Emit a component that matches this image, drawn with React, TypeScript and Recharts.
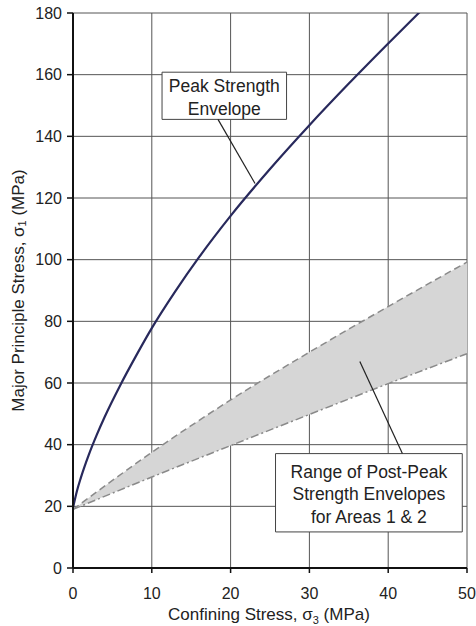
import React from "react";
import {
	ComposedChart,
	Line,
	Area,
	XAxis,
	YAxis,
	CartesianGrid,
	ReferenceLine,
	ReferenceArea,
} from "recharts";

const font = "'Liberation Sans', Arial, sans-serif";

// peak strength envelope, sigma3 vs sigma1 (MPa)
const peakS3 = [0, 0.5, 1, 2, 3, 4, 6, 8, 10, 13, 16, 20, 25, 30, 35, 40, 44];
const peakS1 = [
	19.5, 25, 29.3, 36.7, 43.1, 48.9, 59.3, 68.8, 77.8, 89.8, 100.8, 114.2, 129.4,
	143.6, 157.1, 170.1, 180.3,
];

// post-peak envelope range
const postS3 = [0, 10, 20, 30, 40, 50];
const postUpper = [19, 37.5, 54.5, 70, 84.8, 99.2];
const postLower = [19, 29.5, 39.7, 49.8, 59.8, 69.5];

const xTicks = [0, 10, 20, 30, 40, 50];
const yTicks = [0, 20, 40, 60, 80, 100, 120, 140, 160, 180];

const peakData = peakS3.map((s3, i) => ({ s3, s1: peakS1[i] }));
const postData = postS3.map((s3, i) => ({
	s3,
	upper: postUpper[i],
	lower: postLower[i],
	band: [postLower[i], postUpper[i]],
}));

function BoxText(props: any) {
	const { viewBox, lines } = props;
	if (!viewBox) return null;
	const cx = viewBox.x + viewBox.width / 2;
	const cy = viewBox.y + viewBox.height / 2 + 1.5;
	const lh = 22.5;
	return (
		<g>
			{lines.map((t: string, i: number) => (
				<text
					key={i}
					x={cx}
					y={cy + (i - (lines.length - 1) / 2) * lh}
					textAnchor='middle'
					dominantBaseline='central'
					fontFamily={font}
					fontSize={17.5}
					fill='#222'>
					{t}
				</text>
			))}
		</g>
	);
}

function XTitle(props: any) {
	const { viewBox } = props;
	if (!viewBox) return null;
	return (
		<text
			x={viewBox.x + viewBox.width / 2 - 1}
			y={viewBox.y + 52}
			textAnchor='middle'
			fontFamily={font}
			fontSize={17}
			fill='#222'>
			Confining Stress, σ
			<tspan fontSize={11} dy={4}>
				3
			</tspan>
			<tspan dy={-4}> (MPa)</tspan>
		</text>
	);
}

function YTitle(props: any) {
	const { viewBox } = props;
	if (!viewBox) return null;
	const cx = 18;
	const cy = viewBox.y + viewBox.height / 2;
	return (
		<text
			x={cx}
			y={cy}
			transform={`rotate(-90 ${cx} ${cy})`}
			textAnchor='middle'
			dominantBaseline='central'
			fontFamily={font}
			fontSize={17}
			fill='#222'>
			Major Principle Stress, σ
			<tspan fontSize={11} dy={4}>
				1
			</tspan>
			<tspan dy={-4}> (MPa)</tspan>
		</text>
	);
}

export default function App() {
	return (
		<div style={{ position: "absolute", left: 0, top: 0, background: "#fff" }}>
			<ComposedChart
				width={476}
				height={626}
				margin={{ top: 13, right: 9, bottom: 0, left: 0 }}>
				<CartesianGrid stroke='#555' strokeWidth={1} />
				<XAxis
					type='number'
					dataKey='s3'
					domain={[0, 50]}
					ticks={xTicks}
					height={58}
					tickSize={5}
					tickMargin={15}
					axisLine={{ stroke: "#111", strokeWidth: 2 }}
					tickLine={{ stroke: "#111", strokeWidth: 1.5 }}
					tick={{ fill: "#222", fontSize: 16, fontFamily: font }}
					label={<XTitle />}
				/>
				<YAxis
					type='number'
					domain={[0, 180]}
					ticks={yTicks}
					width={73}
					tickSize={6}
					tickMargin={5}
					allowDataOverflow
					axisLine={{ stroke: "#111", strokeWidth: 2 }}
					tickLine={{ stroke: "#111", strokeWidth: 1.5 }}
					tick={{ fill: "#222", fontSize: 16, fontFamily: font }}
					label={<YTitle />}
				/>
				<Area
					data={postData}
					dataKey='band'
					type='monotone'
					fill='#d6d6d6'
					fillOpacity={1}
					stroke='none'
					isAnimationActive={false}
				/>
				<Line
					data={postData}
					dataKey='upper'
					type='monotone'
					stroke='#8a8a8a'
					strokeWidth={1.5}
					strokeDasharray='7 4'
					dot={false}
					isAnimationActive={false}
				/>
				<Line
					data={postData}
					dataKey='lower'
					type='monotone'
					stroke='#8a8a8a'
					strokeWidth={1.5}
					strokeDasharray='8 3 2 3'
					dot={false}
					isAnimationActive={false}
				/>
				<Line
					data={peakData}
					dataKey='s1'
					type='monotone'
					stroke='#28295c'
					strokeWidth={2.2}
					dot={false}
					isAnimationActive={false}
				/>
				<ReferenceLine
					segment={[
						{ x: 18.4, y: 145.5 },
						{ x: 23.1, y: 124.7 },
					]}
					stroke='#222'
					strokeWidth={1.2}
				/>
				<ReferenceLine
					segment={[
						{ x: 41.8, y: 37.1 },
						{ x: 36.4, y: 67.0 },
					]}
					stroke='#222'
					strokeWidth={1.2}
				/>
				<ReferenceArea
					x1={11.3}
					x2={27.1}
					y1={145.5}
					y2={160.8}
					fill='#fff'
					fillOpacity={1}
					stroke='#444'
					strokeWidth={1}
					label={<BoxText lines={["Peak Strength", "Envelope"]} />}
				/>
				<ReferenceArea
					x1={25.7}
					x2={49.4}
					y1={11.7}
					y2={37.1}
					fill='#fff'
					fillOpacity={1}
					stroke='#444'
					strokeWidth={1}
					label={
						<BoxText
							lines={["Range of Post-Peak", "Strength Envelopes", "for Areas 1 & 2"]}
						/>
					}
				/>
			</ComposedChart>
		</div>
	);
}
